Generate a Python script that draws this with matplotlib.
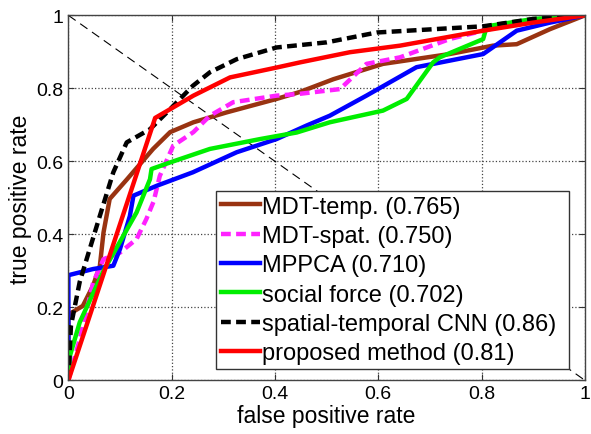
import matplotlib
matplotlib.use("Agg")
import matplotlib.pyplot as plt

plt.rcParams['font.family'] = ['Liberation Sans', 'DejaVu Sans']

# ROC curves
mdt_temp_x = [0, 0, 0.028, 0.048, 0.061, 0.068, 0.08, 0.113, 0.164, 0.197, 0.242, 0.306, 0.403, 0.448, 0.513, 0.609, 0.738, 0.822, 0.868, 0.932, 1]
mdt_temp_y = [0, 0.18, 0.204, 0.26, 0.314, 0.405, 0.497, 0.55, 0.634, 0.68, 0.707, 0.734, 0.771, 0.79, 0.825, 0.867, 0.894, 0.917, 0.921, 0.962, 1]

mdt_spat_x = [0, 0.022, 0.048, 0.068, 0.1, 0.132, 0.151, 0.165, 0.177, 0.203, 0.242, 0.274, 0.319, 0.403, 0.448, 0.526, 0.577, 0.642, 0.738, 0.803, 0.868, 1]
mdt_spat_y = [0, 0.113, 0.268, 0.332, 0.35, 0.387, 0.442, 0.49, 0.56, 0.643, 0.68, 0.725, 0.762, 0.78, 0.785, 0.798, 0.867, 0.885, 0.935, 0.958, 0.98, 1]

mppca_x = [0, 0, 0.048, 0.087, 0.1, 0.119, 0.126, 0.171, 0.241, 0.326, 0.403, 0.461, 0.506, 0.577, 0.674, 0.803, 0.868, 0.932, 1]
mppca_y = [0, 0.288, 0.305, 0.314, 0.36, 0.45, 0.506, 0.533, 0.57, 0.625, 0.661, 0.698, 0.725, 0.78, 0.858, 0.894, 0.958, 0.98, 1]

social_x = [0, 0.003, 0.022, 0.068, 0.132, 0.158, 0.161, 0.197, 0.274, 0.371, 0.442, 0.506, 0.609, 0.655, 0.706, 0.719, 0.803, 0.81, 0.9, 1]
social_y = [0, 0.067, 0.159, 0.30, 0.46, 0.551, 0.579, 0.597, 0.634, 0.661, 0.679, 0.707, 0.739, 0.771, 0.871, 0.885, 0.935, 0.97, 0.99, 1]

cnn_x = [0, 0.005, 0.022, 0.061, 0.087, 0.113, 0.158, 0.197, 0.241, 0.274, 0.326, 0.403, 0.5, 0.597, 0.803, 0.899, 1]
cnn_y = [0, 0.15, 0.27, 0.451, 0.57, 0.652, 0.688, 0.743, 0.807, 0.844, 0.88, 0.912, 0.926, 0.953, 0.97, 0.99, 1]

prop_x = [0, 0.168, 0.242, 0.313, 0.403, 0.448, 0.545, 0.642, 0.803, 0.899, 1]
prop_y = [0, 0.719, 0.78, 0.83, 0.857, 0.871, 0.899, 0.917, 0.958, 0.98, 1]

labels = ['MDT-temp. (0.765)', 'MDT-spat. (0.750)', 'MPPCA (0.710)',
          'social force (0.702)', 'spatial-temporal CNN (0.86)', 'proposed method (0.81)']

fig = plt.figure(figsize=(5.91, 4.35), dpi=100)
ax = fig.add_axes([0.1157, 0.1234, 0.874, 0.839])

ax.plot([0, 1], [1, 0], color='k', linestyle='--', linewidth=0.8, dashes=(8, 5))
ax.plot(mdt_temp_x, mdt_temp_y, color='#993311', linewidth=3.2, label=labels[0])
ax.plot(mdt_spat_x, mdt_spat_y, color='#ff22ff', linewidth=3.2, linestyle='--', dashes=(2.2, 1.2), label=labels[1])
ax.plot(mppca_x, mppca_y, color='#0000ff', linewidth=3.2, label=labels[2])
ax.plot(social_x, social_y, color='#00ee00', linewidth=3.2, label=labels[3])
ax.plot(cnn_x, cnn_y, color='k', linewidth=3.2, linestyle='--', dashes=(2.2, 1.2), label=labels[4])
ax.plot(prop_x, prop_y, color='#ff0000', linewidth=3.2, label=labels[5])

ax.set_xlim(0, 1)
ax.set_ylim(0, 1)
ax.set_xticks([0, 0.2, 0.4, 0.6, 0.8, 1])
ax.set_yticks([0, 0.2, 0.4, 0.6, 0.8, 1])
ax.set_xticklabels(['0', '0.2', '0.4', '0.6', '0.8', '1'])
ax.set_yticklabels(['0', '0.2', '0.4', '0.6', '0.8', '1'])
ax.tick_params(direction='in', top=True, right=True, labelsize=14, length=4, color='#333333')
ax.grid(True, linestyle=':', color='#444444', linewidth=0.9)
for s in ax.spines.values():
    s.set_color('#444444')
    s.set_linewidth(1.0)

ax.set_xlabel('false positive rate', fontsize=16.5, labelpad=1)
ax.set_ylabel('true positive rate', fontsize=16.5, labelpad=3)

leg = ax.legend(loc='lower left', bbox_to_anchor=(0.286, 0.031, 0.683, 0.496), mode='expand',
                fontsize=17, frameon=True, fancybox=False, handlelength=1.65, handletextpad=0.1,
                borderpad=0.2, labelspacing=0.31, borderaxespad=0)
leg.get_frame().set_edgecolor('#333333')
leg.get_frame().set_linewidth(1.0)
leg.get_frame().set_alpha(1)

fig.savefig('out.png', dpi=100)
